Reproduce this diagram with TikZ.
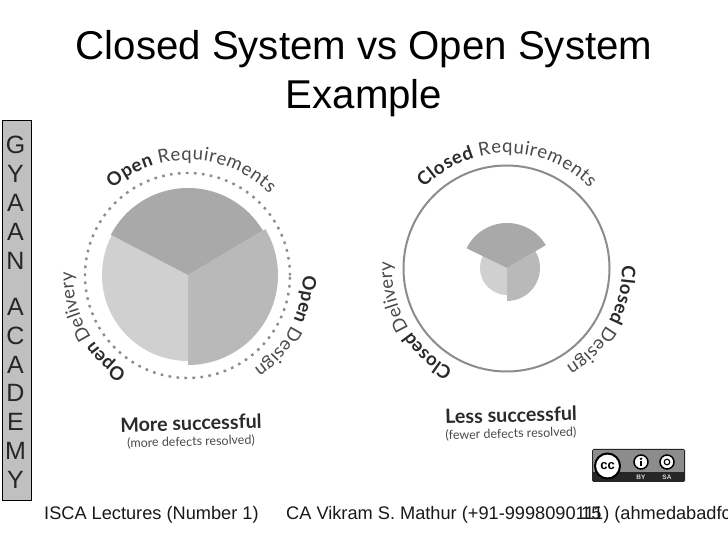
\documentclass[tikz,border=0pt]{standalone}
\usepackage{fontspec}
\usetikzlibrary{decorations.text}
\setmainfont{Liberation Sans}
\newfontfamily\labfont{Lato}
\definecolor{reqgray}{HTML}{A9A9A9}
\definecolor{desgray}{HTML}{B9B9B9}
\definecolor{delgray}{HTML}{D0D0D0}
\definecolor{ringgray}{HTML}{8C8C8C}
\definecolor{sidegray}{HTML}{C0C0C0}
\definecolor{inkdark}{HTML}{2A2A2A}
\definecolor{inklight}{HTML}{4A4A4A}
\newcommand{\arclab}[7]{% cx cy start end r bold light
  \path[postaction={decorate,decoration={text along path,text align=fit to path,
    text={|\labfont\fontsize{18.6}{18.6}\selectfont\bfseries\color{inkdark}|#6 ||%
          |\labfont\fontsize{18.6}{18.6}\selectfont\color{inklight}|#7}}}]
    (#1pt,#2pt) ++(#3:#5pt) arc[start angle=#3,end angle=#4,radius=#5pt];}
\newcommand{\sector}[6]{% colour cx cy start end r
  \fill[#1] (#2pt,#3pt) -- ++(#4:#6pt) arc[start angle=#4,end angle=#5,radius=#6pt] -- cycle;}
\tikzset{
  titletext/.style={font=\fontsize{40.2}{40.2}\selectfont,inner sep=0pt,text=black},
  sideletter/.style={font=\fontsize{25}{25}\selectfont,inner sep=0pt,text=black!85},
  foottext/.style={font=\fontsize{18.2}{18.2}\selectfont,inner sep=0pt,text=black!90,anchor=base west},
  bigcap/.style={font=\labfont\fontsize{19.7}{19.7}\selectfont\bfseries,inner sep=0pt,text=inkdark,rotate=1.5},
  smallcap/.style={font=\labfont\fontsize{12.5}{12.5}\selectfont,inner sep=0pt,text=inklight,rotate=1.5}
}
\begin{document}
\begin{tikzpicture}[x=1pt,y=1pt]
\useasboundingbox (0,0) rectangle (728,546);
\fill[white] (0,0) rectangle (728,546);
% title
\node[titletext] (t1) at (364,497) {Closed System vs Open System};
\node[titletext] (t2) at (364,448) {Example};
% side bar
\draw[black,fill=sidegray,line width=1pt] (2,45) rectangle (31,425);
\foreach \l/\y/\n in {G/145/a,Y/174/b,A/203/c,A/232/d,N/261/e,A/307/f,C/336/g,A/365/h,D/393/i,E/422/j,M/451/k,Y/480/l}
  \node[sideletter] (s\n) at (15.5,546-\y) {\l};
% left diagram
\sector{desgray}{188}{271}{30.7}{-90}{90}
\sector{delgray}{188}{271}{-90}{-207.5}{86}
\sector{reqgray}{188}{271}{152.5}{30.7}{87}
\draw[ringgray,line width=2.4pt,dash pattern=on 2.6pt off 5.4pt] (187.5,270.5) circle[radius=102.5pt];
\arclab{188}{271}{131}{45}{115}{Open}{Requirements}
\arclab{188}{271}{238}{179}{115}{Open}{Delivery}
\arclab{188}{271}{0}{-55}{115}{Open}{Design}
\node[bigcap] (m1) at (191,123) {More successful};
\node[smallcap] (m2) at (191,104) {(more defects resolved)};
% right diagram
\sector{desgray}{507}{278}{30.5}{-90}{33}
\sector{delgray}{507}{278}{-90}{-206}{27}
\sector{reqgray}{507}{278}{154}{30.5}{45}
\draw[ringgray,line width=2pt] (506.5,277.5) circle[radius=103pt];
\arclab{507}{278}{136}{44}{115}{Closed}{Requirements}
\arclab{507}{278}{242}{177}{115}{Closed}{Delivery}
\arclab{507}{278}{1}{-59}{115}{Closed}{Design}
\node[bigcap] (l1) at (511,131) {Less successful};
\node[smallcap] (l2) at (511,112) {(fewer defects resolved)};
% cc badge
\fill[black!85,rounded corners=1.5pt] (592,64) rectangle (685,97);
\fill[black!45] (593,74) rectangle (684,96);
\draw[black,line width=2pt,fill=white] (607.5,80) circle[radius=12.5pt];
\node[font=\fontsize{13}{13}\selectfont\bfseries,inner sep=0pt] (ccmark) at (607.5,80) {cc};
\draw[black,line width=1.5pt,fill=white] (641,84) circle[radius=7pt];
\fill[black] (641,87.2) circle[radius=1.3pt];
\fill[black] (639.6,79.8) rectangle (642.4,85.4);
\draw[black,line width=1.5pt,fill=white] (667,84) circle[radius=7pt];
\draw[black,line width=1.1pt] (667,84) circle[radius=2.8pt];
\node[font=\fontsize{6.5}{6.5}\selectfont\bfseries,text=white!85!black,inner sep=0pt] (by) at (641,69) {BY};
\node[font=\fontsize{6.5}{6.5}\selectfont\bfseries,text=white!85!black,inner sep=0pt] (sa) at (667,69) {SA};
% footer
\node[foottext] (f1) at (44,27) {ISCA Lectures (Number 1)};
\node[foottext] (f2) at (286,27) {CA Vikram S. Mathur (+91-9998090111) (ahmedabadfc};
\node[foottext] (f3) at (581,27) {15};
\end{tikzpicture}
\end{document}
